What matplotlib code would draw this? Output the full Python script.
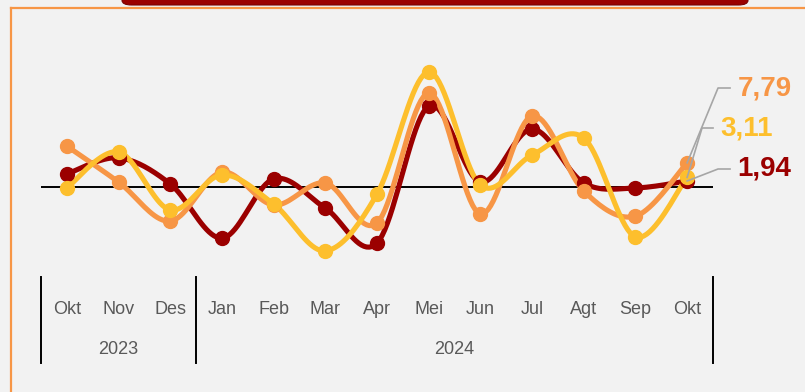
import numpy as np
import matplotlib.pyplot as plt
import matplotlib.transforms as mtransforms
from matplotlib.patches import FancyBboxPatch
from matplotlib.lines import Line2D

months = ['Okt', 'Nov', 'Des', 'Jan', 'Feb', 'Mar', 'Apr', 'Mei', 'Jun', 'Jul', 'Agt', 'Sep', 'Okt']
years = ['2023', '2024']
year_spans = [(0, 2), (3, 12)]

series_red = [4.2, 9.4, 1.0, -16.5, 2.6, -6.8, -18.1, 26.1, 1.6, 18.7, 1.3, -0.3, 1.94]
series_orange = [13.2, 1.6, -11.0, 4.8, -5.8, 1.3, -11.6, 30.3, -8.7, 22.9, -1.3, -9.4, 7.79]
series_yellow = [-0.3, 11.3, -7.4, 3.9, -5.5, -20.6, -2.3, 37.1, 0.6, 10.3, 15.8, -16.1, 3.11]

RED = '#9B0000'
ORANGE = '#F79646'
YELLOW = '#FDBF2D'
BG = '#F2F2F2'
TXT = '#595959'

FONT = ['Liberation Sans Narrow', 'Liberation Sans', 'DejaVu Sans']


def smooth(y, steps=20):
    # Catmull-Rom curve through the points (same shape as a spreadsheet "smoothed line")
    x = np.arange(len(y), dtype=float)
    y = np.asarray(y, dtype=float)
    px = np.concatenate([[x[0]], x, [x[-1]]])
    py = np.concatenate([[y[0]], y, [y[-1]]])
    xs, ys = [], []
    t = np.linspace(0, 1, steps, endpoint=False)
    for i in range(1, len(px) - 2):
        for arr, out in ((px, xs), (py, ys)):
            p0, p1, p2, p3 = arr[i - 1], arr[i], arr[i + 1], arr[i + 2]
            c1 = p1 + (p2 - p0) / 6
            c2 = p2 - (p3 - p1) / 6
            out.extend((1 - t) ** 3 * p1 + 3 * (1 - t) ** 2 * t * c1
                       + 3 * (1 - t) * t ** 2 * c2 + t ** 3 * p2)
    xs.append(x[-1])
    ys.append(y[-1])
    return np.array(xs), np.array(ys)


fig = plt.figure(figsize=(8.05, 3.92), dpi=100, facecolor=BG)
W, H = 805, 392

# frame and title banner
fig.add_artist(Line2D([11 / W, 11 / W], [0, 1 - 8 / H], color=ORANGE, lw=1.6))
fig.add_artist(Line2D([11 / W, 1], [1 - 8 / H, 1 - 8 / H], color=ORANGE, lw=1.6))
fig.add_artist(FancyBboxPatch((122 / W, 1 - 5 / H), 626 / W, 20 / H,
                              boxstyle='round,pad=0,rounding_size=0.012',
                              facecolor=RED, edgecolor='#7A0000', lw=0.8,
                              transform=fig.transFigure))

# plot area: x index -0.5..12.5 across px 41..713, 3.1 px per unit, zero at px 187
top_px, bot_px = 40, 272
ax = fig.add_axes([41 / W, 1 - bot_px / H, 672 / W, (bot_px - top_px) / H])
ax.set_facecolor(BG)
ax.set_xlim(-0.5, len(months) - 0.5)
ax.set_ylim((187 - bot_px) / 3.1, (187 - top_px) / 3.1)
for s in ax.spines.values():
    s.set_visible(False)
ax.set_xticks([])
ax.set_yticks([])

ax.axhline(0, color='black', lw=1.4, zorder=1)

for vals, col in ((series_red, RED), (series_orange, ORANGE), (series_yellow, YELLOW)):
    sx, sy = smooth(vals)
    ax.plot(sx, sy, color=col, lw=3.7, solid_capstyle='round', zorder=2)
    ax.plot(range(len(vals)), vals, 'o', color=col, ms=10, zorder=3)

# month and year labels under the plot
trans = mtransforms.blended_transform_factory(ax.transData, fig.transFigure)
for i, m in enumerate(months):
    ax.text(i, 1 - 309 / H, m, transform=trans, ha='center', va='center',
            fontsize=13, color=TXT, family=FONT)
for yr, (a, b) in zip(years, year_spans):
    ax.text((a + b) / 2, 1 - 350 / H, yr, transform=trans, ha='center', va='center',
            fontsize=13, color=TXT, family=FONT)
for xb in (-0.5, 2.5, 12.5):
    ax.plot([xb, xb], [1 - 277 / H, 1 - 363 / H], transform=trans, color='black',
            lw=1.4, clip_on=False)

# value labels for the latest month with leader lines
last = len(months) - 1
labels = [(series_orange, ORANGE, 88, 718, 730), (series_yellow, YELLOW, 128, 702, 713),
          (series_red, RED, 169, 718, 730)]
for vals, col, ypx, xbend, xend in labels:
    yv = (187 - ypx) / 3.1
    xb = (xbend - 41) / 51.69 - 0.5
    xe = (xend - 41) / 51.69 - 0.5
    ax.plot([last, xb, xe], [vals[-1], yv, yv], color='#A6A6A6', lw=1.2,
            clip_on=False, zorder=4)
    ax.text(xe + 0.14, yv, f'{vals[-1]:.2f}'.replace('.', ','), ha='left', va='center',
            fontsize=20, fontweight='bold', color=col, family=FONT, clip_on=False)

fig.savefig('out.png', dpi=100, facecolor=BG)
